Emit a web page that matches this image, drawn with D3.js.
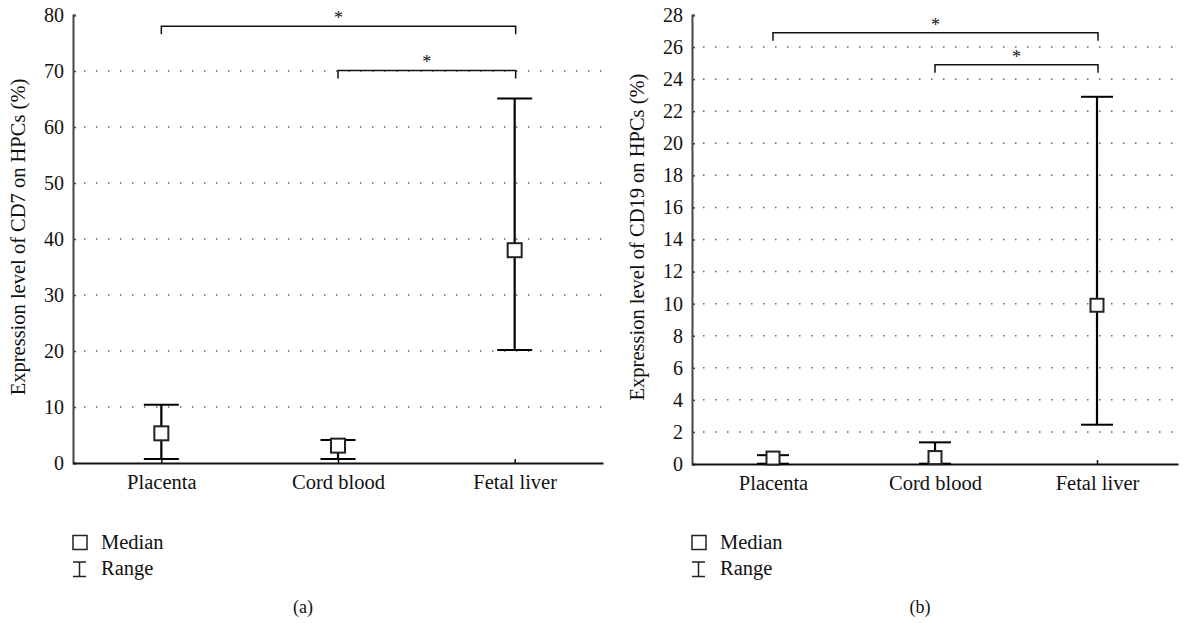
<!DOCTYPE html>
<html><head><meta charset="utf-8">
<script src="https://cdn.jsdelivr.net/npm/d3@7"></script>
<style>body{margin:0;background:#fff}svg{display:block}svg text{font-family:"Liberation Serif","DejaVu Serif",serif !important;fill:#111}</style>
</head><body><svg id="c" width="1183" height="623"></svg>
<script>
const categories = ["Placenta", "Cord blood", "Fetal liver"];
// Panel (a): CD7
const cd7Median = [5.3, 3.1, 38.0];
const cd7Min = [0.7, 0.7, 20.2];
const cd7Max = [10.4, 4.1, 65.1];
const cd7Ticks = [0, 10, 20, 30, 40, 50, 60, 70, 80];
// Panel (b): CD19
const cd19Median = [0.37, 0.4, 9.9];
const cd19Min = [0.02, 0.02, 2.45];
const cd19Max = [0.55, 1.35, 22.9];
const cd19Ticks = [0, 2, 4, 6, 8, 10, 12, 14, 16, 18, 20, 22, 24, 26, 28];
// Significance brackets: [from index, to index, level]
const cd7Sig = [[0, 2, 78.0], [1, 2, 70.1]];
const cd19Sig = [[0, 2, 26.9], [1, 2, 24.9]];

const svg = d3.select("#c");
const FONT = '"Liberation Serif","DejaVu Serif",serif';

function panel(o) {
  const g = svg.append("g");
  const x = d3.scalePoint().domain(categories).range([o.x0, o.x1]).padding(0.5);
  const y = d3.scaleLinear().domain([0, o.ymax]).range([o.y0, o.y1]);

  // grid dotted lines
  g.selectAll(".grid").data(o.ticks.filter(t => t > 0 && t < o.ymax)).enter()
    .append("line").attr("x1", o.x0 + 11).attr("x2", o.x1).attr("y1", d => y(d)).attr("y2", d => y(d))
    .attr("stroke", "#666").attr("stroke-width", 1.5).attr("stroke-dasharray", "1.5,10.5");

  // y axis
  const ya = g.append("g").attr("transform", `translate(${o.x0},0)`)
    .call(d3.axisLeft(y).tickValues(o.ticks).tickSize(-3).tickPadding(9))
    .attr("font-family", FONT);
  ya.select(".domain").attr("stroke", "#444").attr("stroke-width", 2);
  ya.selectAll(".tick line").attr("stroke", "#444").attr("stroke-width", 1.5);
  ya.selectAll("text").style("font-family", FONT).style("font-size", "20px").attr("fill", "#111");

  // x axis
  const xa = g.append("g").attr("transform", `translate(0,${o.y0})`)
    .call(d3.axisBottom(x).tickSize(-4).tickSizeOuter(0).tickPadding(11))
    .attr("font-family", FONT);
  xa.select(".domain").attr("stroke", "#111").attr("stroke-width", 2);
  xa.selectAll(".tick line").attr("stroke", "#111").attr("stroke-width", 1.5);
  xa.selectAll("text").style("font-family", FONT).style("font-size", "20.5px").attr("fill", "#111");

  // range whiskers
  const cw = o.capW;
  categories.forEach((c, i) => {
    const cx = x(c);
    g.append("line").attr("x1", cx).attr("x2", cx).attr("y1", y(o.max[i])).attr("y2", y(o.min[i]))
      .attr("stroke", "#000").attr("stroke-width", 2.2);
    [o.max[i], o.min[i]].forEach(v => g.append("line")
      .attr("x1", cx - cw / 2).attr("x2", cx + cw / 2).attr("y1", y(v)).attr("y2", y(v))
      .attr("stroke", "#000").attr("stroke-width", 2));
    g.append("rect").attr("x", cx - o.box / 2).attr("y", y(o.med[i]) - o.box / 2)
      .attr("width", o.box).attr("height", o.box).attr("fill", "#fff")
      .attr("stroke", "#222").attr("stroke-width", 2);
  });

  // significance brackets
  o.sig.forEach(([a, b, v]) => {
    const xa1 = x(categories[a]), xb1 = x(categories[b]) + 1, yy = y(v);
    g.append("path").attr("d", `M${xa1},${yy + 8}V${yy}H${xb1}V${yy + 8}`)
      .attr("fill", "none").attr("stroke", "#111").attr("stroke-width", 1.5);
    g.append("text").attr("x", (xa1 + xb1) / 2).attr("y", yy - 2).attr("text-anchor", "middle")
      .style("font-size", "18px").text("*");
  });

  // y title
  g.append("text").attr("transform", `translate(${o.titleX},${o.titleY}) rotate(-90)`)
    .attr("text-anchor", "middle").style("font-size", "20.5px").text(o.title);

  // legend
  const lx = o.legX;
  g.append("rect").attr("x", lx).attr("y", 535.5).attr("width", 14).attr("height", 14)
    .attr("fill", "#fff").attr("stroke", "#222").attr("stroke-width", 1.5);
  g.append("text").attr("x", lx + 28).attr("y", 549).style("font-size", "20.5px").text("Median");
  g.append("path").attr("d", `M${lx},562H${lx + 13}M${lx + 6.5},562V576.5M${lx},576.5H${lx + 13}`)
    .attr("stroke", "#222").attr("stroke-width", 1.5).attr("fill", "none");
  g.append("text").attr("x", lx + 28).attr("y", 575).style("font-size", "20.5px").text("Range");

  g.append("text").attr("x", o.labX).attr("y", 613).attr("text-anchor", "middle")
    .style("font-size", "18px").text(o.label);
}

panel({x0: 73, x1: 603, y0: 463, y1: 15, ymax: 80, ticks: cd7Ticks,
  med: cd7Median, min: cd7Min, max: cd7Max, sig: cd7Sig, capW: 35, box: 14,
  title: "Expression level of CD7 on HPCs (%)", titleX: 25, titleY: 237, legX: 73, labX: 303, label: "(a)"});
panel({x0: 692, x1: 1178, y0: 464, y1: 15, ymax: 28, ticks: cd19Ticks,
  med: cd19Median, min: cd19Min, max: cd19Max, sig: cd19Sig, capW: 32, box: 13,
  title: "Expression level of CD19 on HPCs (%)", titleX: 644, titleY: 237, legX: 692, labX: 920, label: "(b)"});
</script></body></html>
